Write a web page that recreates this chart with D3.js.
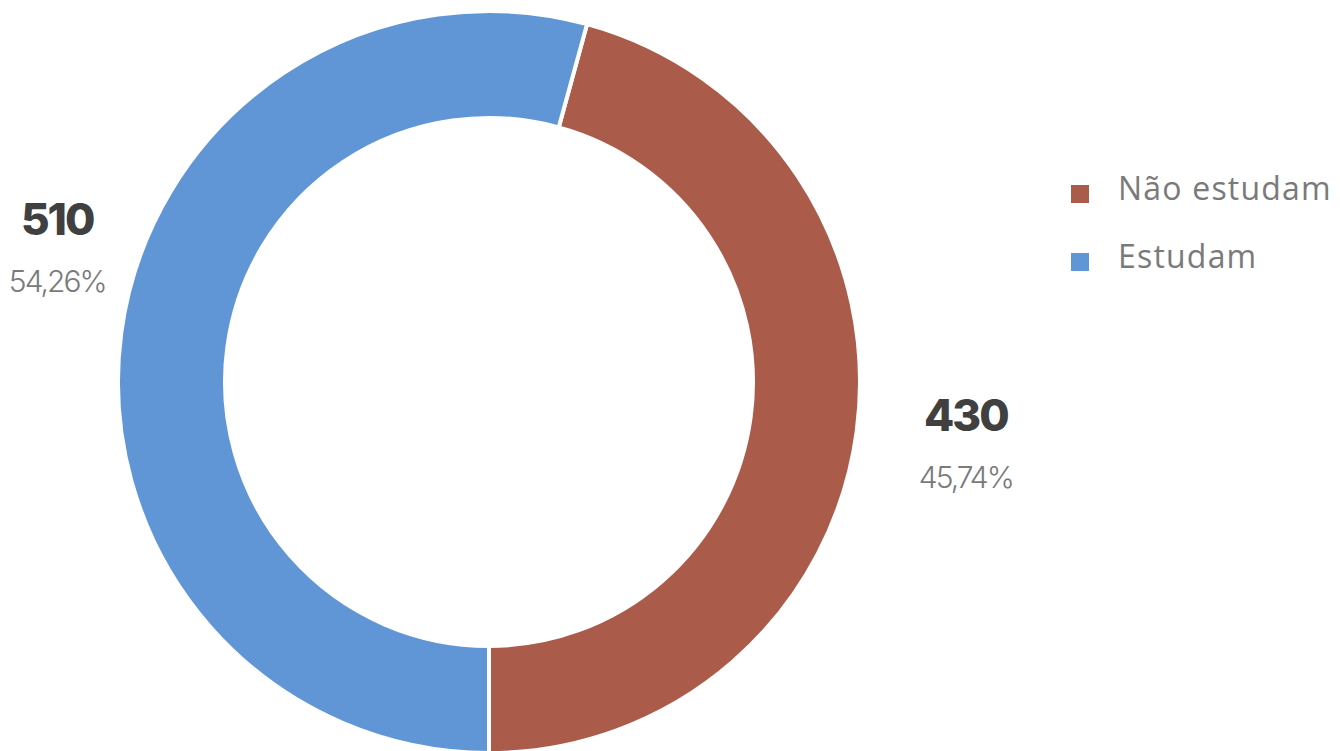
<!DOCTYPE html>
<html lang="pt">
  <head>
    <meta charset="utf-8" />
    <script type="text/javascript" src="https://cdn.jsdelivr.net/npm/d3@7"></script>
    <style>
      body { margin: 0; background: #fff; }
      svg { display: block; }
    </style>
  </head>

  <body>
    <script type="text/javascript">
      // data
      let categories = ["Não estudam", "Estudam"];
      let values = [430, 510];
      let percents = ["45,74%", "54,26%"];
      let colors = ["#ab5b4a", "#6096d6"];

      let w = 1340;
      let h = 751;
      let cx = 489;
      let cy = 382;
      let outerR = 371;
      let innerR = 264;

      let svg = d3
        .select("body")
        .append("svg")
        .attr("width", w)
        .attr("height", h);

      let total = d3.sum(values);
      // first slice ends at the bottom (pi)
      let start = Math.PI - (values[0] / total) * 2 * Math.PI;

      let pie = d3
        .pie()
        .sort(null)
        .startAngle(start)
        .endAngle(start + 2 * Math.PI);

      let arcs = pie(values);

      let arc = d3.arc().innerRadius(innerR).outerRadius(outerR);

      let g = svg.append("g").attr("transform", `translate(${cx},${cy})`);

      g.selectAll("path")
        .data(arcs)
        .join("path")
        .attr("d", arc)
        .attr("fill", (d, i) => colors[i])
        .attr("stroke", "#fff")
        .attr("stroke-width", 4)
        .attr("stroke-linejoin", "miter");

      // labels outside the ring
      let labelArc = d3.arc().innerRadius(470).outerRadius(470);
      let nudge = [
        [11, 0],
        [34, -70],
      ];

      let labels = g
        .selectAll("g.lbl")
        .data(arcs)
        .join("g")
        .attr("class", "lbl")
        .attr("transform", (d, i) => {
          let c = labelArc.centroid(d);
          return `translate(${c[0] + nudge[i][0]},${c[1] + nudge[i][1]})`;
        });

      labels
        .append("text")
        .text((d) => d.data)
        .attr("y", -14)
        .attr("text-anchor", "middle")
        .attr("font-family", "Inter, sans-serif")
        .attr("font-weight", 800)
        .attr("font-size", "44px")
        .attr("letter-spacing", "-2px")
        .attr("fill", "#404040");

      labels
        .append("text")
        .text((d, i) => percents[i])
        .attr("y", 43)
        .attr("text-anchor", "middle")
        .attr("font-family", "Inter, sans-serif")
        .attr("font-weight", 300)
        .attr("font-size", "30px")
        .attr("letter-spacing", "-2px")
        .attr("fill", "#7a7a7a");

      // legend
      let legend = svg
        .selectAll("g.legend")
        .data(categories)
        .join("g")
        .attr("class", "legend")
        .attr("transform", (d, i) => `translate(1071,${185 + i * 68})`);

      legend
        .append("rect")
        .attr("width", 18)
        .attr("height", 18)
        .attr("fill", (d, i) => colors[i]);

      legend
        .append("text")
        .text((d) => d)
        .attr("x", 47)
        .attr("y", 15)
        .attr("font-family", "'Open Sans', sans-serif")
        .attr("font-size", "32px")
        .attr("letter-spacing", "1.2px")
        .attr("fill", "#7a7a7a");
    </script>
  </body>
</html>
